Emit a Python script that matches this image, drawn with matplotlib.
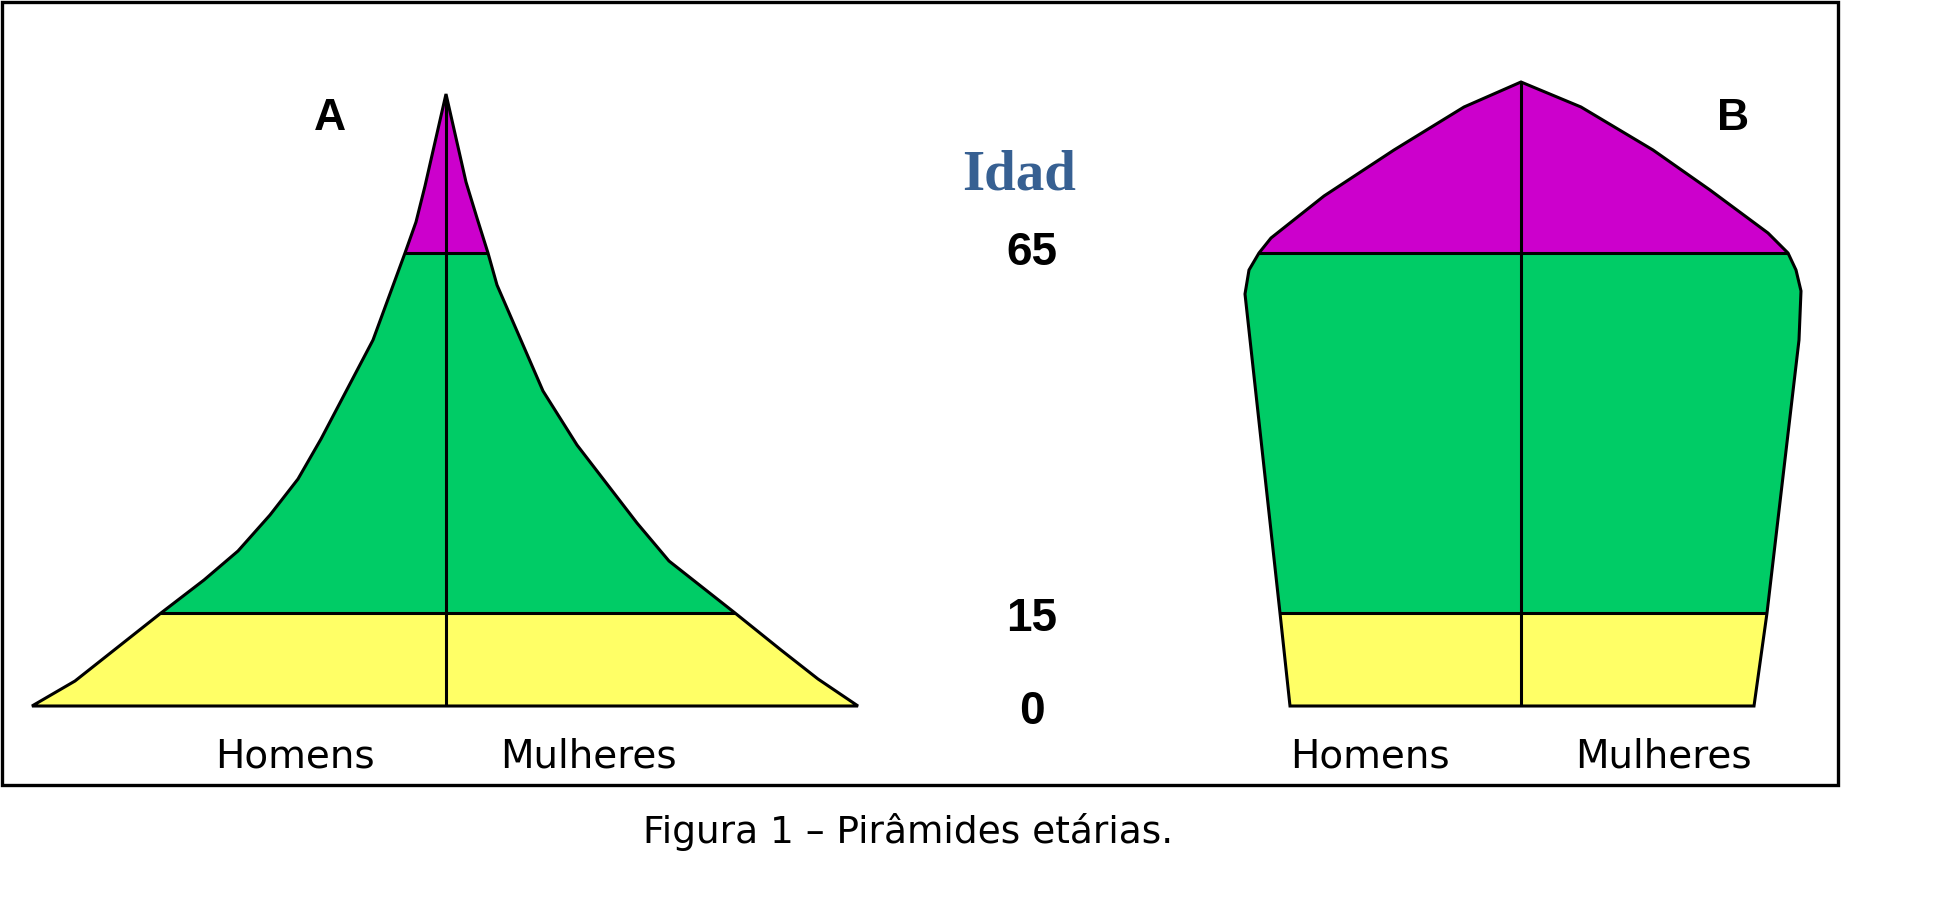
import matplotlib.pyplot as plt
from matplotlib.patches import Polygon, Rectangle
import numpy as np

# ---------------------------------
# DATA (widths from centre line, heights above the base line)
# ---------------------------------
a_center = 446
a_left_h = [0, 25, 93, 126, 155, 191, 227, 267, 366, 453, 484, 520, 612]
a_left_w = [414, 371, 285, 242, 208, 176, 148, 125, 73, 41, 30, 21, 0]
a_right_h = [612, 524, 488, 453, 421, 315, 261, 183, 145, 93, 56, 27, 0]
a_right_w = [0, 20, 31, 42, 51, 97, 131, 191, 223, 289, 335, 372, 412]

b_center = 1521
b_left_h = [0, 93, 412, 436, 453, 468, 510, 556, 599, 624]
b_left_w = [231, 241, 276, 272, 262, 250, 197, 127, 57, 0]
b_right_h = [624, 599, 556, 516, 473, 453, 436, 415, 366, 93, 0]
b_right_w = [0, 60, 132, 189, 247, 267, 275, 280, 278, 246, 233]

ages = ["0", "15", "65"]
age_levels = [0, 93, 453]
band_colors = ["#FFFF66", "#00CC66", "#CC00CC"]

side_labels = ["Homens", "Mulheres"]

# ---------------------------------
# FIGURE
# ---------------------------------
fig = plt.figure(figsize=(19.47, 9.08), dpi=100)
ax = fig.add_axes([0, 0, 1, 1])
ax.set_xlim(0, 1947)
ax.set_ylim(706 - 908, 706)
ax.axis("off")

LW = 2.2


def draw_pyramid(cx, lh, lw, rh, rw, letter, letter_x):
    xs = [cx - w for w in lw] + [cx + w for w in rw]
    ys = list(lh) + list(rh)
    poly = Polygon(np.column_stack([xs, ys]), closed=True, fc="none",
                   ec="black", lw=LW, zorder=4, joinstyle="miter")
    ax.add_patch(poly)

    tops = age_levels[1:] + [max(ys)]
    for lo, hi, c in zip(age_levels, tops, band_colors):
        span = ax.axhspan(lo, hi, color=c, lw=0, zorder=1)
        span.set_clip_path(poly)

    for lvl in age_levels[1:]:
        ln = ax.axhline(lvl, color="black", lw=LW, zorder=3)
        ln.set_clip_path(poly)
    ln = ax.axvline(cx, color="black", lw=LW, zorder=3)
    ln.set_clip_path(poly)

    ax.text(letter_x, 587, letter, fontsize=32, fontweight="bold",
            family="Liberation Sans", ha="center", va="center")
    ax.text(cx - 151, -61, side_labels[0], fontsize=28, family="DejaVu Sans",
            ha="center", va="baseline")
    ax.text(cx + 142, -61, side_labels[1], fontsize=28, family="DejaVu Sans",
            ha="center", va="baseline")


draw_pyramid(a_center, a_left_h, a_left_w, a_right_h, a_right_w, "A", 330)
draw_pyramid(b_center, b_left_h, b_left_w, b_right_h, b_right_w, "B", 1733)

# age labels in the middle
for lab, lvl, dy in zip(ages, age_levels, [-6, -6, 0]):
    ax.text(1032, lvl + dy, lab, fontsize=33, fontweight="bold",
            family="Liberation Sans", ha="center", va="center")
ax.text(1019, 530, "Idad", fontsize=41, fontweight="bold",
        family="Liberation Serif", color="#376092", ha="center", va="center")

# frame round the drawing
ax.add_patch(Rectangle((1.5, -79), 1836, 783.5, fc="none", ec="black",
                       lw=2.4, zorder=5))

ax.text(908, -137, "Figura 1 – Pirâmides etárias.", fontsize=27,
        family="DejaVu Sans", ha="center", va="baseline")

fig.savefig("out.png", dpi=100)
